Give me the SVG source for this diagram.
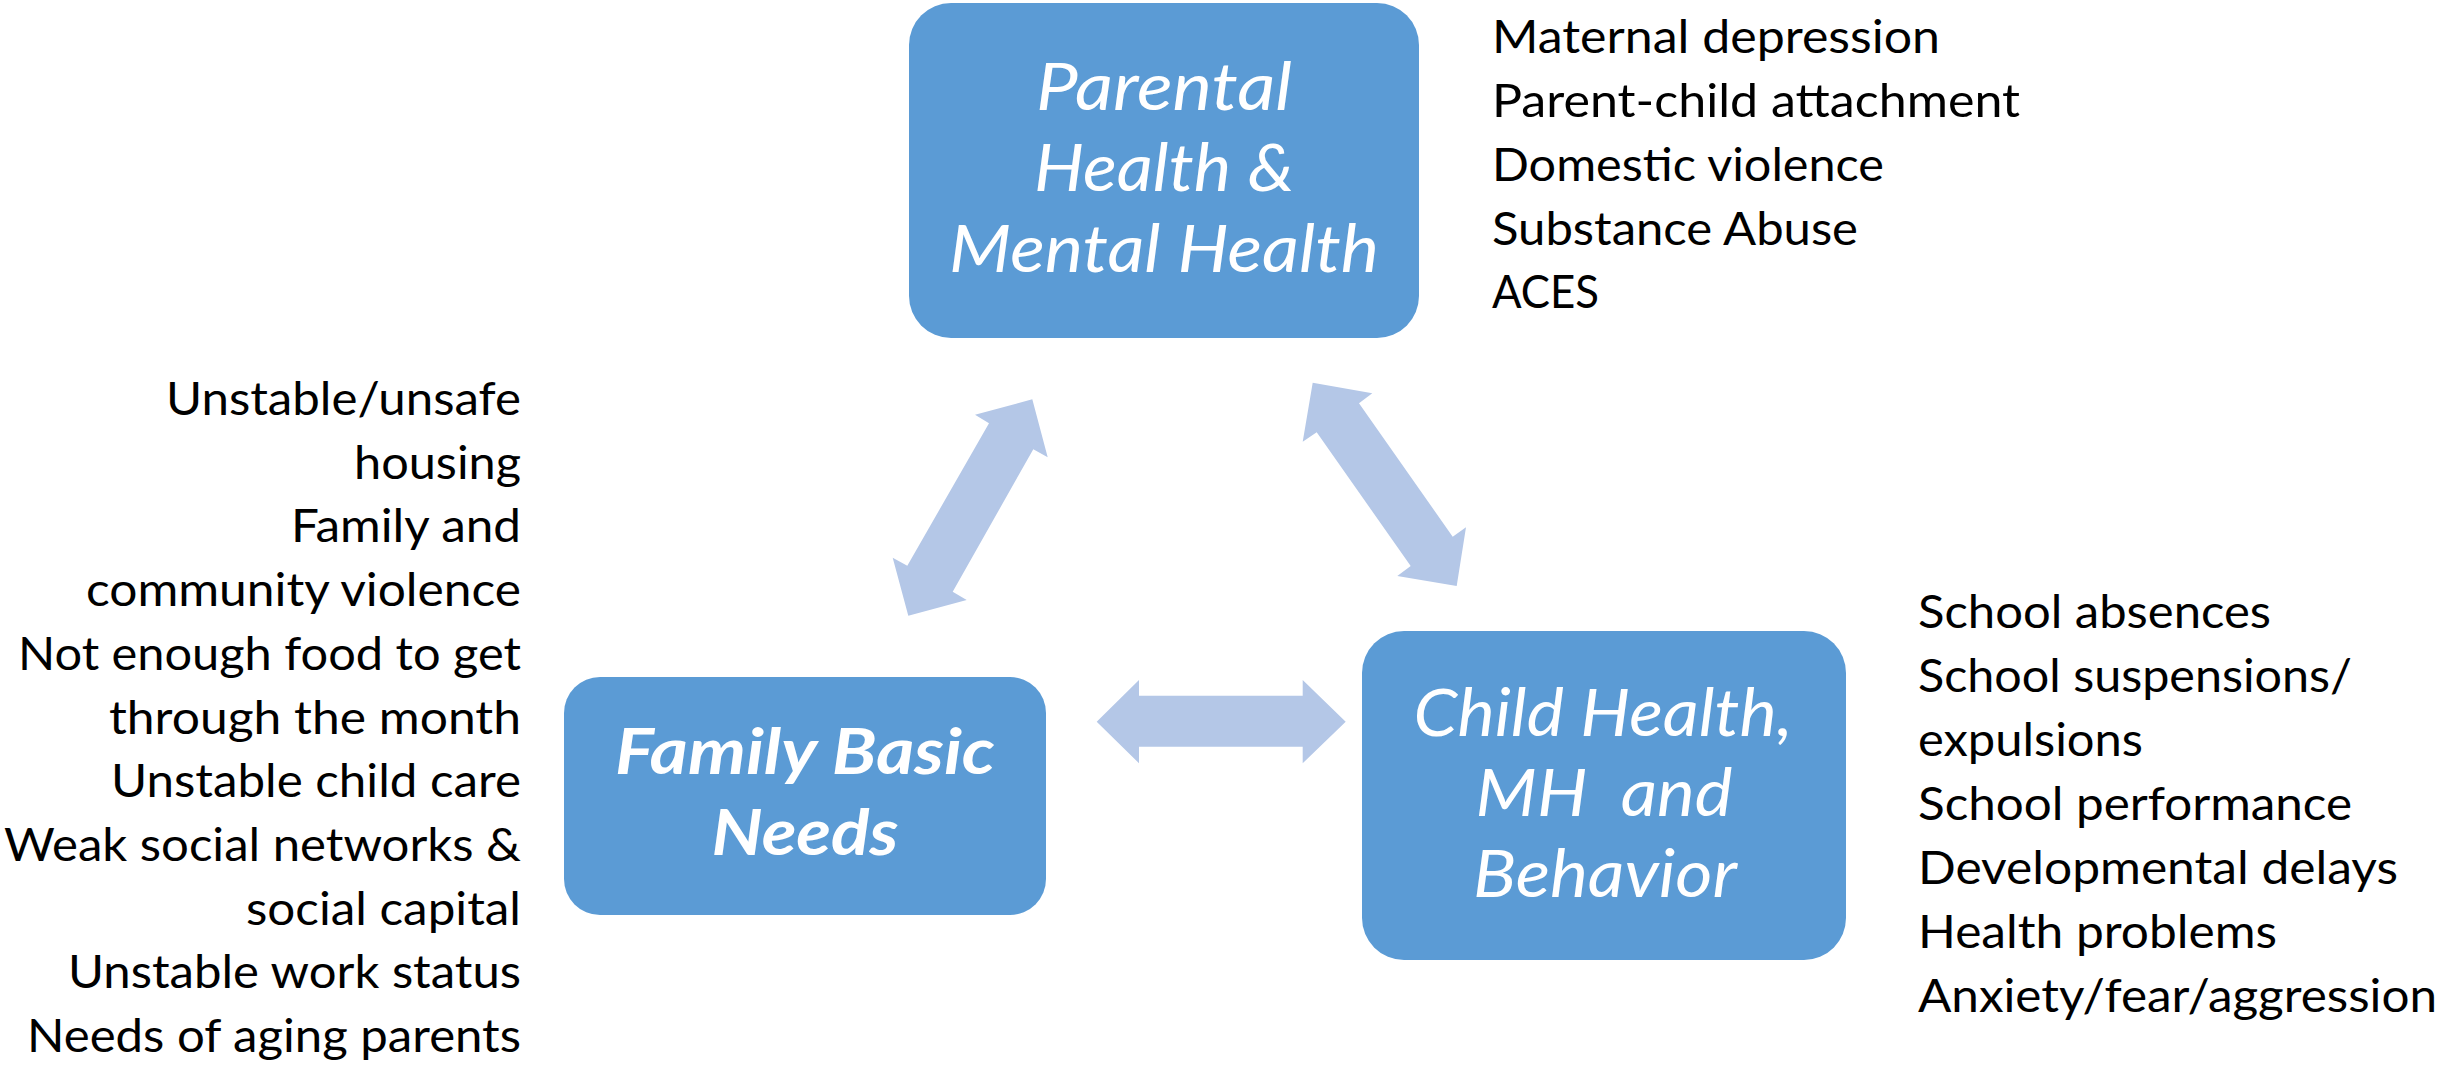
<svg xmlns="http://www.w3.org/2000/svg" width="2445" height="1066" viewBox="0 0 2445 1066">
<style>
.box{fill:#5B9BD5;}
.arrow{fill:#B4C7E7;}
.lbl{font-family:Lato,"Open Sans","Liberation Sans",sans-serif;font-style:italic;font-weight:400;font-size:66px;fill:#FFFFFF;text-anchor:middle;white-space:pre;}
.lblb{font-family:Lato,"Open Sans","Liberation Sans",sans-serif;font-style:italic;font-weight:700;font-size:64px;fill:#FFFFFF;text-anchor:middle;}
.item{font-family:Lato,"Open Sans","Liberation Sans",sans-serif;font-size:46px;fill:#000000;}
.r{text-anchor:end;}
</style>
<rect width="2445" height="1066" fill="#FFFFFF"/>
<g id="connectors">
<polygon class="arrow" points="1032.3,399.3 1047.7,457.3 1033.3,449.3 952.7,591.7 966.7,600 908.3,615.7 892.7,557.7 907.3,565.7 989,423.3 975,414.7"/>
<polygon class="arrow" points="1312.7,382.7 1372.3,393.3 1359,403.3 1452.7,536.7 1466,527.3 1456.7,586 1397.3,576 1410.7,566 1316.7,432.3 1302.7,441.7"/>
<polygon class="arrow" points="1096.7,721.7 1139,680 1139,695.7 1302.7,695.7 1302.7,680 1345.7,721.7 1302.7,763.3 1302.7,746.7 1139,746.7 1139,763.3"/>
</g>
<g id="parental">
<rect class="box" x="909" y="3" width="510" height="335" rx="42"/>
<text class="lbl" x="1164" y="110" textLength="256" lengthAdjust="spacingAndGlyphs">Parental</text>
<text class="lbl" x="1164" y="191" textLength="260" lengthAdjust="spacingAndGlyphs">Health &amp;</text>
<text class="lbl" x="1164" y="272" textLength="430" lengthAdjust="spacingAndGlyphs">Mental Health</text>
</g>
<g id="parental-items">
<text class="item" x="1492" y="53" textLength="448" lengthAdjust="spacingAndGlyphs">Maternal depression</text>
<text class="item" x="1492" y="117" textLength="528" lengthAdjust="spacingAndGlyphs">Parent-child attachment</text>
<text class="item" x="1492" y="181" textLength="392" lengthAdjust="spacingAndGlyphs">Domestic violence</text>
<text class="item" x="1492" y="245" textLength="366" lengthAdjust="spacingAndGlyphs">Substance Abuse</text>
<text class="item" x="1492" y="308" textLength="107" lengthAdjust="spacingAndGlyphs">ACES</text>
</g>
<g id="family">
<rect class="box" x="564" y="677" width="482" height="238" rx="36"/>
<text class="lblb" x="805" y="774" textLength="380" lengthAdjust="spacingAndGlyphs">Family Basic</text>
<text class="lblb" x="805" y="855" textLength="187" lengthAdjust="spacingAndGlyphs">Needs</text>
</g>
<g id="family-items">
<text class="item r" x="521" y="415" textLength="355" lengthAdjust="spacingAndGlyphs">Unstable/unsafe</text>
<text class="item r" x="521" y="479" textLength="167" lengthAdjust="spacingAndGlyphs">housing</text>
<text class="item r" x="521" y="542" textLength="230" lengthAdjust="spacingAndGlyphs">Family and</text>
<text class="item r" x="521" y="606" textLength="435" lengthAdjust="spacingAndGlyphs">community violence</text>
<text class="item r" x="521" y="670" textLength="503" lengthAdjust="spacingAndGlyphs">Not enough food to get</text>
<text class="item r" x="521" y="734" textLength="412" lengthAdjust="spacingAndGlyphs">through the month</text>
<text class="item r" x="521" y="797" textLength="410" lengthAdjust="spacingAndGlyphs">Unstable child care</text>
<text class="item r" x="521" y="861" textLength="517" lengthAdjust="spacingAndGlyphs">Weak social networks &amp;</text>
<text class="item r" x="521" y="925" textLength="275" lengthAdjust="spacingAndGlyphs">social capital</text>
<text class="item r" x="521" y="988" textLength="453" lengthAdjust="spacingAndGlyphs">Unstable work status</text>
<text class="item r" x="521" y="1052" textLength="494" lengthAdjust="spacingAndGlyphs">Needs of aging parents</text>
</g>
<g id="child">
<rect class="box" x="1362" y="631" width="484" height="329" rx="42"/>
<text class="lbl" x="1603" y="736" textLength="379" lengthAdjust="spacingAndGlyphs">Child Health,</text>
<text class="lbl" x="1604" y="816" textLength="257" lengthAdjust="spacingAndGlyphs">MH  and</text>
<text class="lbl" x="1605" y="897" textLength="264" lengthAdjust="spacingAndGlyphs">Behavior</text>
</g>
<g id="child-items">
<text class="item" x="1918" y="628" textLength="353" lengthAdjust="spacingAndGlyphs">School absences</text>
<text class="item" x="1918" y="692" textLength="434" lengthAdjust="spacingAndGlyphs">School suspensions/</text>
<text class="item" x="1918" y="756" textLength="225" lengthAdjust="spacingAndGlyphs">expulsions</text>
<text class="item" x="1918" y="820" textLength="434" lengthAdjust="spacingAndGlyphs">School performance</text>
<text class="item" x="1918" y="884" textLength="480" lengthAdjust="spacingAndGlyphs">Developmental delays</text>
<text class="item" x="1918" y="948" textLength="359" lengthAdjust="spacingAndGlyphs">Health problems</text>
<text class="item" x="1918" y="1012" textLength="519" lengthAdjust="spacingAndGlyphs">Anxiety/fear/aggression</text>
</g>
</svg>
